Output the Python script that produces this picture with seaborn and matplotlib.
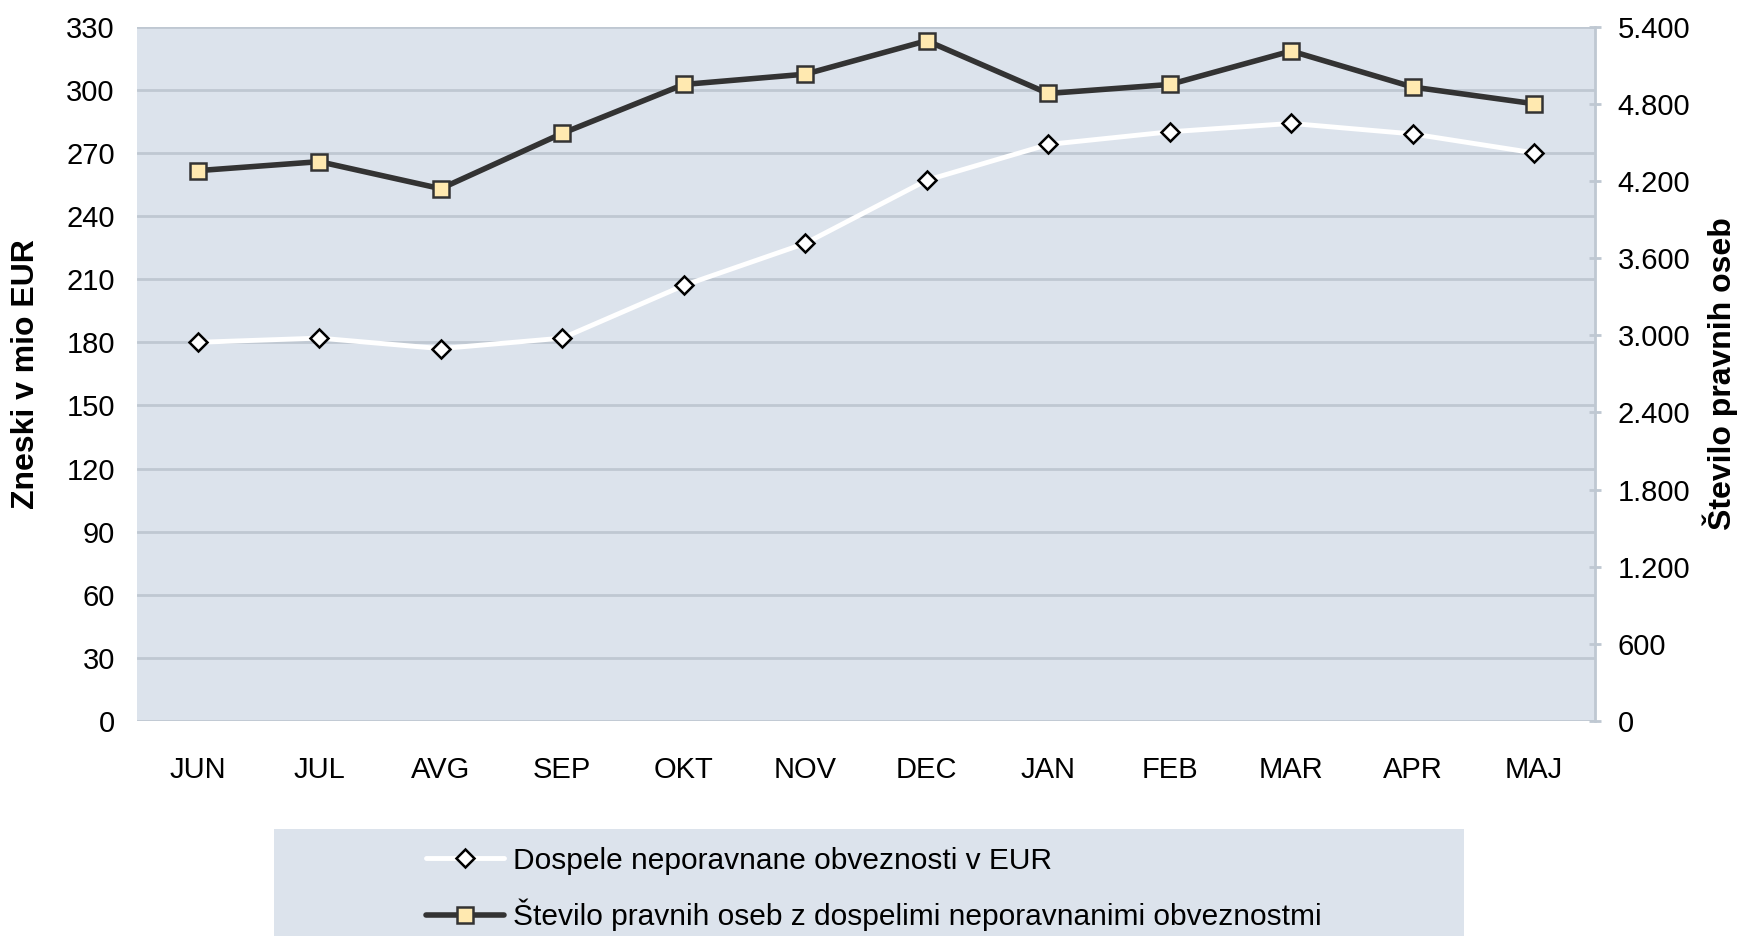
import pandas as pd
import seaborn as sns
import matplotlib.pyplot as plt
from matplotlib.patches import Rectangle
from matplotlib.ticker import FuncFormatter

months = ["JUN", "JUL", "AVG", "SEP", "OKT", "NOV", "DEC", "JAN", "FEB", "MAR", "APR", "MAJ"]
eur = [180, 182, 177, 182, 207, 227, 257, 274, 280, 284, 279, 270]
pravne = [4280, 4350, 4140, 4570, 4950, 5030, 5290, 4880, 4950, 5210, 4930, 4800]

label_eur = "Dospele neporavnane obveznosti v EUR"
label_pravne = "Število pravnih oseb z dospelimi neporavnanimi obveznostmi"

bg = "#dce3ec"
grid = "#bfc8d2"

sns.set_style("white", {"axes.facecolor": bg})
plt.rcParams["font.family"] = ["Liberation Sans Narrow", "Liberation Sans", "DejaVu Sans"]
plt.rcParams["text.color"] = "black"
plt.rcParams["xtick.color"] = "black"
plt.rcParams["ytick.color"] = "black"
plt.rcParams["axes.labelcolor"] = "black"

df = pd.DataFrame({"mesec": months, "eur": eur, "pravne": pravne})

fig = plt.figure(figsize=(17.37, 9.36), dpi=100)
ax = fig.add_axes([0.0789, 0.2295, 0.8393, 0.7421])

# horizontal grid on the left axis
ax.set_ylim(0, 330)
ax.set_yticks(range(0, 331, 30))
ax.yaxis.grid(True, color=grid, lw=2)
ax.set_axisbelow(True)
for s in ax.spines.values():
    s.set_visible(False)

sns.lineplot(df, x="mesec", y="eur", ax=ax, color="white", lw=3.5, sort=False,
             marker="D", markersize=9, markerfacecolor="white",
             markeredgecolor="black", markeredgewidth=1.8, label=label_eur,
             legend=False)
ax.set_xlim(-0.5, 11.5)

ax2 = ax.twinx()
sns.lineplot(df, x="mesec", y="pravne", ax=ax2, color="#333333", lw=4, sort=False,
             marker="s", markersize=11, markerfacecolor="#ffe9b0",
             markeredgecolor="#333333", markeredgewidth=1.8, label=label_pravne,
             legend=False)
ax2.set_ylim(0, 5400)
ax2.set_yticks(range(0, 5401, 600))
ax2.yaxis.set_major_formatter(FuncFormatter(lambda v, p: f"{int(v):,}".replace(",", ".")))
ax2.set_xlim(-0.5, 11.5)
for s in ["top", "left", "bottom"]:
    ax2.spines[s].set_visible(False)
ax2.spines["right"].set_color(grid)
ax2.spines["right"].set_linewidth(2)

ax.tick_params(axis="y", length=0, labelsize=21, pad=16)
ax.tick_params(axis="x", length=0, labelsize=21, pad=25)
ax2.tick_params(axis="y", right=True, direction="inout", length=9, width=2,
                color=grid, labelcolor="black", labelsize=21, pad=12)

ax.set_xlabel("")
ax.set_ylabel("Zneski v mio EUR", fontsize=23, fontweight="bold",
              family=["Liberation Sans", "DejaVu Sans"])
ax.yaxis.set_label_coords(-0.066, 0.5)
ax2.set_ylabel("Število pravnih oseb", fontsize=23, fontweight="bold", rotation=90,
               family=["Liberation Sans", "DejaVu Sans"])
ax2.yaxis.set_label_coords(1.074, 0.5)

# legend box below the plot
fig.patches.append(Rectangle((0.158, 0.0), 0.685, 0.1147, transform=fig.transFigure,
                             facecolor=bg, edgecolor="none"))
h1, l1 = ax.get_legend_handles_labels()
h2, l2 = ax2.get_legend_handles_labels()
fig.legend(h1 + h2, l1 + l2, loc="center left", bbox_to_anchor=(0.2453, 0.0502),
           frameon=False, fontsize=21.5, handlelength=2.6, handletextpad=0.3,
           labelspacing=0.8, borderpad=0, borderaxespad=0)

plt.savefig("out.png", dpi=100)
